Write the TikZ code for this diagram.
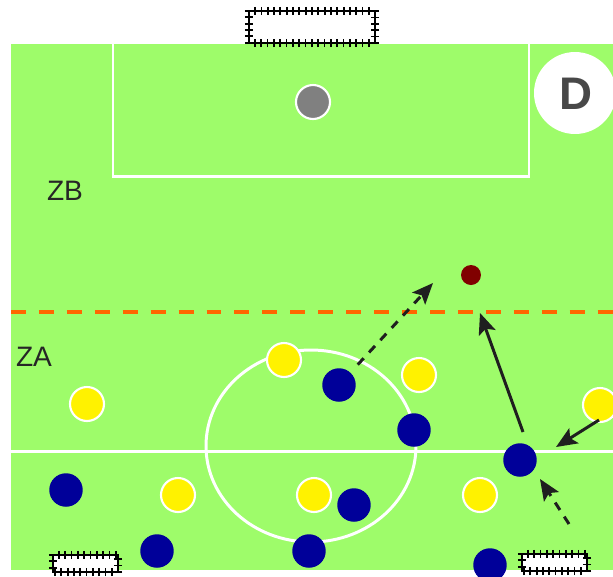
\documentclass[tikz,border=0pt]{standalone}
\usepackage{fontspec}
\setmainfont{Liberation Sans}
\usetikzlibrary{arrows.meta, decorations.markings}
\definecolor{pitch}{RGB}{158,252,106}
\definecolor{navyp}{RGB}{0,0,153}
\definecolor{ballred}{RGB}{128,0,0}
\definecolor{zoneline}{RGB}{255,102,0}
\definecolor{dgray}{RGB}{72,72,72}

\begin{document}
\begin{tikzpicture}[
    x=0.02cm, y=-0.02cm,
    field/.style={fill=pitch, draw=none},
    markline/.style={draw=white, line width=1.7pt},
    goal/.style={draw=black, fill=white, line width=1.4pt,
        postaction={decorate, decoration={markings,
            mark=between positions 0 and 1 step 3.6pt with {\draw[line width=1pt] (0pt,-2.4pt) -- (0pt,2.4pt);}}}},
    yellowp/.style={circle, draw=white, line width=1.2pt, fill=yellow, minimum size=0.68cm, inner sep=0pt},
    bluep/.style={circle, fill=navyp, minimum size=0.67cm, inner sep=0pt},
    zone/.style={font=\fontsize{16}{18}\selectfont, text=black!85},
    arrow/.style={-{Stealth[length=12pt, width=10pt, inset=2.5pt]}, line width=1.7pt, draw=black!88},
    dasharrow/.style={arrow, dash pattern=on 5pt off 4.5pt}
]
    \useasboundingbox (0,0) rectangle (613,576);

    % pitch and lines
    \path[field] (11,44) rectangle (613,570);
    \draw[markline, fill=pitch] (113,42) rectangle (529,176);
    \draw[markline] (11,451) -- (613,451);
    \draw[markline] (311,446) ellipse [x radius=105, y radius=96];
    \draw[zoneline, line width=2.3pt, dash pattern=on 8.5pt off 7.4pt] (11,312) -- (613,312);

    % goals
    \draw[goal] (249,11) rectangle (375,43);
    \draw[goal] (53,555) rectangle (118,572);
    \draw[goal] (522,554) rectangle (587,571);

    % zone labels and balls
    \node[zone] (zb) at (65,191) {ZB};
    \node[zone] (za) at (34,357) {ZA};
    \node[circle, fill=white, minimum size=1.64cm, inner sep=0pt] (dcirc) at (575,93) {};
    \node[font=\fontsize{26}{28}\selectfont\bfseries, text=dgray] (dlabel) at (576,94) {D};
    \node[circle, draw=white, line width=1.2pt, fill=gray, minimum size=0.68cm, inner sep=0pt] (ball) at (313,102) {};
    \node[circle, fill=ballred, minimum size=0.4cm, inner sep=0pt] (target) at (471,275) {};

    % yellow team
    \node[yellowp] (y1) at (284,360) {};
    \node[yellowp] (y2) at (419,375) {};
    \node[yellowp] (y3) at (87,404) {};
    \node[yellowp] (y4) at (600,405) {};
    \node[yellowp] (y5) at (178,495) {};
    \node[yellowp] (y6) at (314,495) {};
    \node[yellowp] (y7) at (480,495) {};

    % blue team
    \node[bluep] (b1) at (339,385) {};
    \node[bluep] (b2) at (414,430) {};
    \node[bluep] (b3) at (520,460) {};
    \node[bluep] (b4) at (66,490) {};
    \node[bluep] (b5) at (354,505) {};
    \node[bluep] (b6) at (157,551) {};
    \node[bluep] (b7) at (309,551) {};
    \node[bluep] (b8) at (490,565) {};

    % runs and passes
    \coordinate (run1) at (433,283);
    \coordinate (pass0) at (523,432);
    \coordinate (pass1) at (480,313);
    \coordinate (cross0) at (599,420);
    \coordinate (cross1) at (556,447);
    \coordinate (sup0) at (569,524);
    \coordinate (sup1) at (540,479);

    \draw[dasharrow, shorten <=6pt] (b1) -- (run1);
    \draw[arrow] (pass0) -- (pass1);
    \draw[arrow] (cross0) -- (cross1);
    \draw[dasharrow] (sup0) -- (sup1);
\end{tikzpicture}
\end{document}
